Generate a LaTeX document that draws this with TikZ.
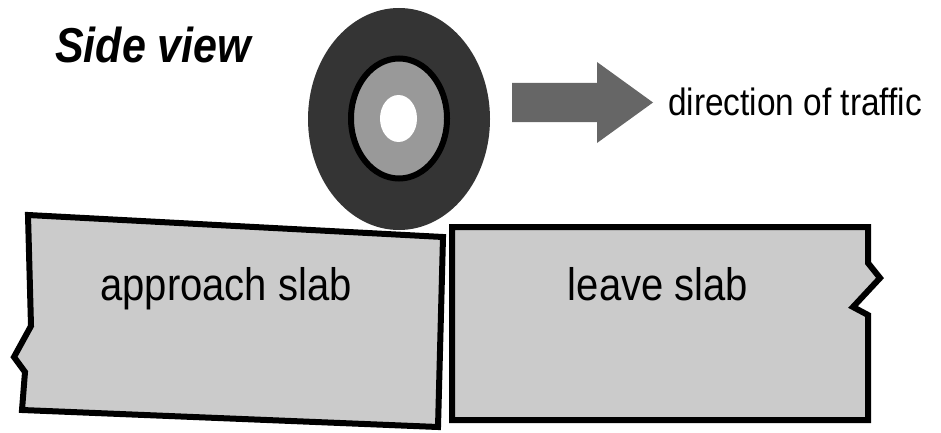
\documentclass[tikz,border=0pt]{standalone}
\usepackage{fontspec}
\setmainfont{Liberation Sans}
\usepackage{tikz}
\usetikzlibrary{positioning,calc}

\definecolor{slabgrey}{RGB}{203,203,203}
\definecolor{tyre}{RGB}{52,52,52}
\definecolor{rim}{RGB}{153,153,153}
\definecolor{arrowgrey}{RGB}{102,102,102}

% text in the figure is a bit taller than wide
\newcommand{\tall}[1]{\scalebox{1}[1.14]{#1}}

\begin{document}
\begin{tikzpicture}[x=1pt, y=-1pt,
    slab/.style={draw, fill=slabgrey, line width=6pt},
    slabtext/.style={inner sep=0pt, anchor=base, font=\fontsize{40}{44}\selectfont}]
    \useasboundingbox (0,0) rectangle (941,433);

    % wheel
    \fill[tyre] (399,119) ellipse [x radius=91, y radius=111];
    \fill[rim] (399,118.5) ellipse [x radius=48, y radius=60];
    \draw[black, line width=6pt] (399,118.5) ellipse [x radius=48, y radius=60];
    \fill[white] (398.5,118.5) ellipse [x radius=18.5, y radius=23.5];

    % slabs
    \draw[slab] (28,215) -- (443,237) -- (438,427) -- (22,410) -- (25,372)
        -- (14,357) -- (31,326) -- cycle;
    \draw[slab] (452,227) -- (868,227) -- (868,263) -- (880,278) -- (853,307)
        -- (868,315) -- (868,420) -- (452,420) -- cycle;
    \node[slabtext] (a) at (226,300) {\tall{approach slab}};
    \node[slabtext] (l) at (658,300) {\tall{leave slab}};

    % traffic arrow
    \fill[arrowgrey] (512,83) -- (597,83) -- (597,62) -- (653,102.5) -- (597,143)
        -- (597,122) -- (512,122) -- cycle;
    \node[inner sep=0pt, anchor=base west, font=\fontsize{33.4}{36}\selectfont]
        (dir) at (668,115) {\tall{direction of traffic}};

    \node[inner sep=0pt, anchor=base west, font=\fontsize{43}{46}\selectfont\bfseries\itshape]
        (title) at (55,63) {\tall{Side view}};
\end{tikzpicture}
\end{document}
